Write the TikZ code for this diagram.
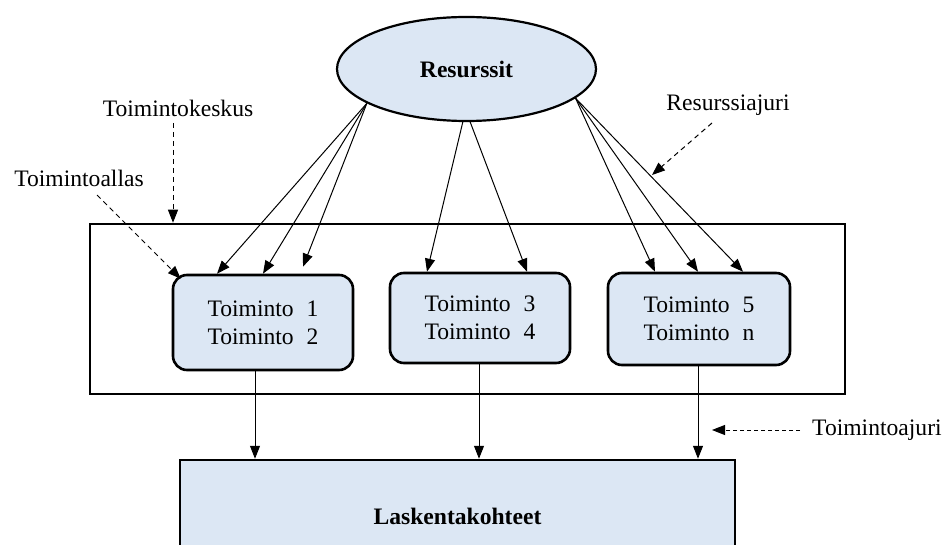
\documentclass[tikz,border=0pt]{standalone}
\usepackage{fontspec}
\setmainfont{Liberation Serif}
\usetikzlibrary{arrows.meta,shapes.geometric}
\definecolor{boxfill}{RGB}{220,231,244}
\newcommand{\gap}{\hspace{0.55em}}
\begin{document}
\begin{tikzpicture}[x=1pt,y=-1pt,
  txt/.style={font=\fontsize{23.6}{28}\selectfont, inner sep=0pt},
  btxt/.style={font=\fontsize{23.6}{28}\selectfont\bfseries, inner sep=0pt},
  actbox/.style={draw, line width=2.6pt, fill=boxfill, rounded corners=14pt,
    inner sep=0pt, align=center, font=\fontsize{23.6}{28}\selectfont},
  arr/.style={line width=1pt, -{Triangle[length=13pt,width=10pt]}},
  darr/.style={arr, dash pattern=on 5pt off 4pt},
  darrshort/.style={arr, dash pattern=on 4pt off 3pt}]
\useasboundingbox (0,0) rectangle (952,545);

% activity centre frame
\node[draw, line width=2.5pt, minimum width=755pt, minimum height=170pt,
  inner sep=0pt] (outer) at (467.5,309) {};

% resources
\node[ellipse, draw, line width=2.2pt, fill=boxfill, minimum width=259pt,
  minimum height=104pt, inner sep=0pt, btxt] (res) at (466.5,69) {Resurssit};

% activity pools
\node[actbox, minimum width=180pt, minimum height=95pt] (box1) at (263,322.5)
  {Toiminto\gap 1\\Toiminto\gap 2};
\node[actbox, minimum width=180pt, minimum height=90pt] (box2) at (480,318)
  {Toiminto\gap 3\\Toiminto\gap 4};
\node[actbox, minimum width=182pt, minimum height=92pt] (box3) at (699,319)
  {Toiminto\gap 5\\Toiminto\gap n};

% cost objects
\node[draw, line width=2.5pt, fill=boxfill, minimum width=555pt,
  minimum height=112pt, inner sep=0pt, btxt] (lask) at (457.5,516) {Laskentakohteet};

% resource drivers
\draw[arr] (res.199) -- ([xshift=-46pt]box1.north);
\draw[arr] (res.199) -- (box1.north);
\draw[arr] (res.199) -- ([xshift=40pt,yshift=7pt]box1.north);
\draw[arr] (res.-94) -- ([xshift=-53pt]box2.north);
\draw[arr] (res.-86) -- ([xshift=47pt]box2.north);
\draw[arr] (res.-15.5) -- ([xshift=-44pt]box3.north);
\draw[arr] (res.-15.5) -- ([xshift=-1pt]box3.north);
\draw[arr] (res.-15.5) -- ([xshift=44pt]box3.north);

% activity drivers
\draw[arr] ([xshift=-8pt]box1.south) -- ([xshift=-8pt]box1.south |- lask.north);
\draw[arr] ([xshift=-1pt]box2.south) -- ([xshift=-1pt]box2.south |- lask.north);
\draw[arr] ([xshift=-1pt]box3.south) -- ([xshift=-1pt]box3.south |- lask.north);

% callouts
\node[txt] (tk) at (178,108) {Toimintokeskus};
\coordinate (tkTail) at (173,123);
\draw[darr] (tkTail) -- (tkTail |- outer.north);

\node[txt] (ta) at (79,178) {Toimintoallas};
\coordinate (taTail) at (97,195);
\draw[darr] (taTail) -- ([shift={(9pt,-5pt)}]box1.north west);

\node[txt] (ra) at (728,105) {Resurssiajuri};
\coordinate (raTail) at (712,123);
\coordinate (raTip) at (652,175);
\draw[darr] (raTail) -- (raTip);

\node[txt, anchor=west] (toa) at (812,430) {Toimintoajuri};
\coordinate (toaTip) at (712,430);
\draw[darrshort] ([xshift=-12pt]toa.west) -- (toaTip);
\end{tikzpicture}
\end{document}
